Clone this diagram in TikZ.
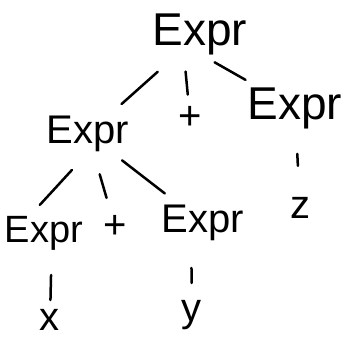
\documentclass[tikz,border=0pt]{standalone}
\usepackage{fontspec}
\setmainfont{Liberation Sans}
\begin{document}
\begin{tikzpicture}[x=1pt,y=1pt,
  word/.style={inner sep=0pt,font=\fontsize{40}{40}\selectfont},
  bigword/.style={inner sep=0pt,font=\fontsize{46}{46}\selectfont},
  branch/.style={line width=2.5pt,line cap=round}]
\useasboundingbox (0,0) rectangle (341,341);
\node[bigword] (root) at (200,307) {Expr};
\node[word] (lhs) at (88,207) {Expr};
\node[word] (plusA) at (190,223) {+};
\node[bigword] (rhs) at (295,233) {Expr};
\node[word,font=\fontsize{38}{38}\selectfont] (sub) at (44,108) {Expr};
\node[word] (plusB) at (115,114) {+};
\node[word] (term) at (203,118) {Expr};
\node[word] (varz) at (300,133) {z};
\node[word] (varx) at (50,21) {x};
\node[word] (vary) at (192,26) {y};
\draw[branch,shorten <=56.6pt,shorten >=45pt] (root.center) -- (lhs.center);
\draw[branch,shorten <=37.7pt,shorten >=23.5pt] ([xshift=-18pt]root.center) -- (plusA.center);
\draw[branch,shorten <=16.8pt,shorten >=56.9pt] ([yshift=-20pt]root.center) -- (rhs.center);
\draw[branch,shorten <=45.9pt,shorten >=42.2pt] (rhs.center) -- (varz.center);
\draw[branch,shorten <=48.8pt,shorten >=38.2pt] ([xshift=17pt]lhs.center) -- ([xshift=-30pt]sub.center);
\draw[branch,shorten <=41.9pt,shorten >=30.3pt] (lhs.center) -- (plusB.center);
\draw[branch,shorten <=43.1pt,shorten >=48.3pt] (lhs.center) -- (term.center);
\draw[branch,shorten <=42pt,shorten >=20pt] ([xshift=8pt]sub.center) -- (varx.center);
\draw[branch,shorten <=45pt,shorten >=32pt] ([xshift=-12pt]term.center) -- (vary.center);
\end{tikzpicture}
\end{document}
